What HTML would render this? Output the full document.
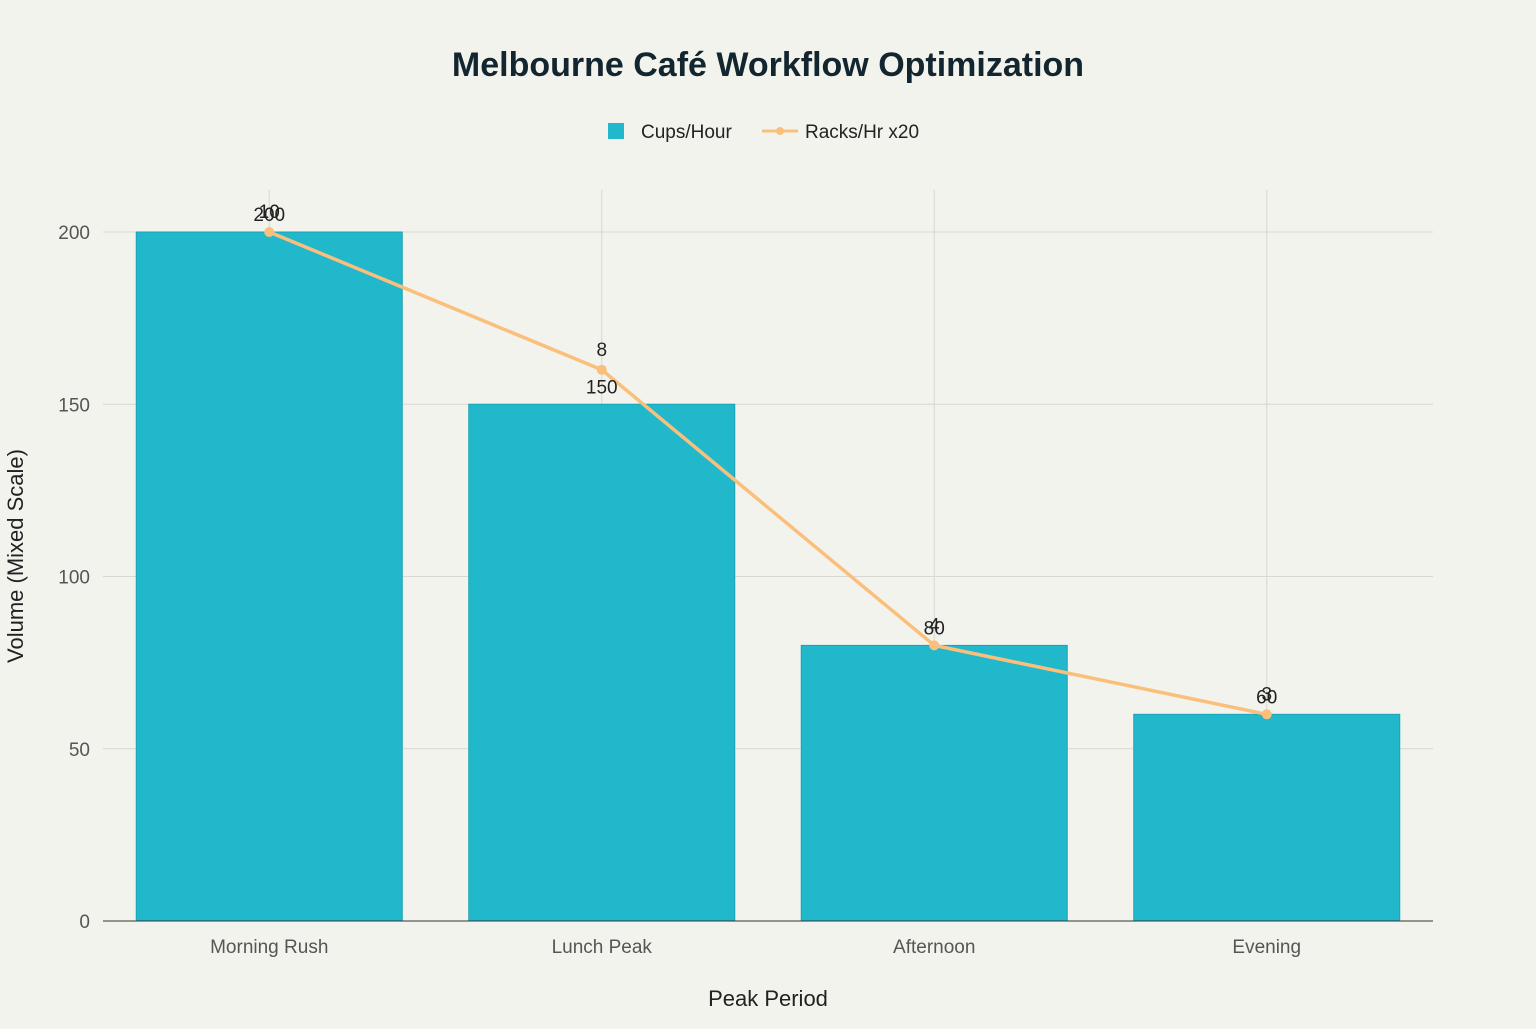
<!DOCTYPE html>
<html><head><meta charset="utf-8"><style>
body{margin:0;background:#f3f3ee;font-family:"Liberation Sans",sans-serif}
</style></head><body>
<svg id="chart" width="1536" height="1024" xmlns="http://www.w3.org/2000/svg">
<rect width="1536" height="1024" fill="#f3f3ee"/>
<text x="768" y="76" text-anchor="middle" font-size="34" font-weight="bold" fill="#13252e">Melbourne Café Workflow Optimization</text>
<g>
<g><rect x="608" y="123" width="16" height="16" fill="#21b8cc"/><text x="641" y="138" font-size="19" fill="#222">Cups/Hour</text></g>
<g><line x1="762" y1="131" x2="798" y2="131" stroke="#fbbf7c" stroke-width="3"/><circle cx="780" cy="131" r="4" fill="#fbbf7c"/><text x="805" y="138" font-size="19" fill="#222">Racks/Hr x20</text></g>
</g>
<g id="grid"></g><g id="bars"></g><g id="line"></g><g id="labels"></g><g id="axes"></g>
<text x="768" y="1006" text-anchor="middle" font-size="22" fill="#222">Peak Period</text>
<text transform="translate(23,556) rotate(-90)" text-anchor="middle" font-size="22" fill="#222">Volume (Mixed Scale)</text>
</svg>
<script>
const categories=["Morning Rush","Lunch Peak","Afternoon","Evening"];
const cups=[200,150,80,60];
const racks=[10,8,4,3];
const rackScale=20;
const yTicks=[0,50,100,150,200];
const NS="http://www.w3.org/2000/svg";
const L=103,R=1433,T=190,B=921;
const bw=(R-L)/categories.length;
const x=i=>L+bw*(i+0.5);
const y=v=>B-v*(921-232)/200;
function mk(p,t,a){const e=document.createElementNS(NS,t);for(const k in a)e.setAttribute(k,a[k]);document.getElementById(p).appendChild(e);return e;}
yTicks.forEach(v=>{
 if(v>0){const g=mk("grid","line",{x1:L,x2:R,y1:y(v),y2:y(v),stroke:"#d8d8d2","stroke-width":1});
 
 }
 const t=mk("axes","text",{x:L-13,y:y(v)+7,"text-anchor":"end","font-size":19,fill:"#555"});t.textContent=v;
 
 
});
categories.forEach((c,i)=>{
 const g=mk("grid","line",{x1:x(i),x2:x(i),y1:T,y2:B,stroke:"#d8d8d2","stroke-width":1});
 
 
 const b=mk("bars","rect",{x:x(i)-133,width:266,y:y(cups[i]),height:B-y(cups[i]),fill:"#21b8cc",stroke:"#1aa3b5","stroke-width":1});
 
 
 const bl=mk("labels","text",{x:x(i),y:y(cups[i])-11,"text-anchor":"middle","font-size":19,fill:"#222"});bl.textContent=cups[i];
 
 
 const t=mk("axes","text",{x:x(i),y:953,"text-anchor":"middle","font-size":19,fill:"#555"});t.textContent=c;
 
 
});
const ax=mk("axes","line",{x1:L,x2:R,y1:B,y2:B,stroke:"#333","stroke-width":1});


const pts=racks.map((r,i)=>x(i)+","+y(r*rackScale)).join(" ");
const pl=mk("line","polyline",{points:pts,fill:"none",stroke:"#fbbf7c","stroke-width":3.5});


racks.forEach((r,i)=>{
 const c=mk("line","circle",{cx:x(i),cy:y(r*rackScale),r:5,fill:"#fbbf7c"});
 
 
 const t=mk("labels","text",{x:x(i),y:y(r*rackScale)-14,"text-anchor":"middle","font-size":19,fill:"#222"});t.textContent=r;
 
 
});
</script>
</body></html>
